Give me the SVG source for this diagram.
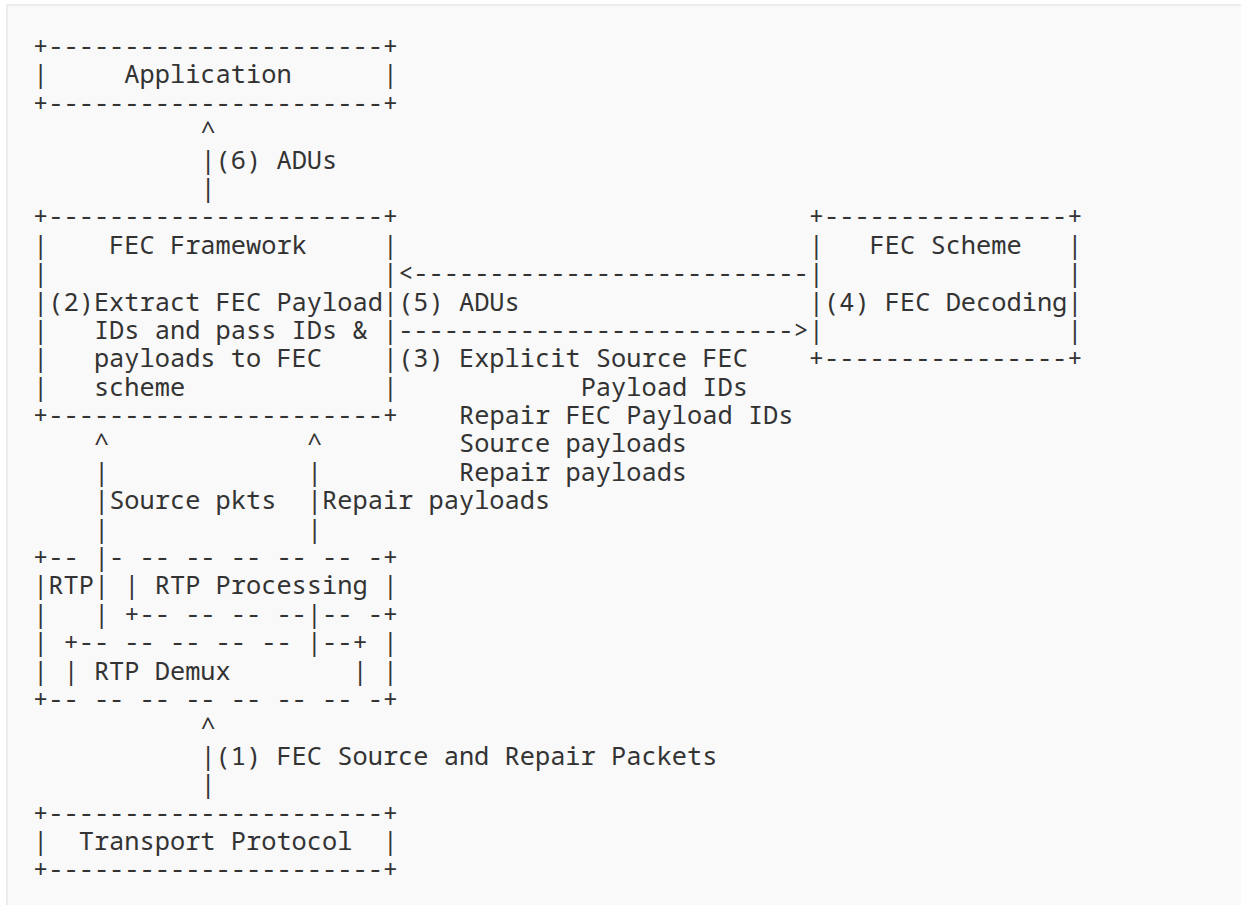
<svg xmlns="http://www.w3.org/2000/svg" width="1241" height="905" viewBox="0 0 1241 905" xml:space="preserve">
<style>
.t{font-family:"Noto Sans Mono","DejaVu Sans Mono","Liberation Mono",monospace;font-size:25.35px;fill:#333;white-space:pre}
</style>
<rect x="0" y="0" width="1241" height="905" fill="#ffffff"/>
<rect x="7" y="5" width="1250" height="920" fill="#f9f9f9" stroke="#ececec" stroke-width="2"/>
<g id="application">
<text class="t" x="33.1" y="55">+----------------------+</text>
<text class="t" x="33.1" y="83.39">|     Application      |</text>
<text class="t" x="33.1" y="111.78">+----------------------+</text>
</g>
<g id="fec-framework">
<text class="t" x="33.1" y="225.34">+----------------------+</text>
<text class="t" x="33.1" y="253.73">|    FEC Framework     |</text>
<text class="t" x="33.1" y="282.12">|                      |</text>
<text class="t" x="33.1" y="310.51">|(2)Extract FEC Payload|</text>
<text class="t" x="33.1" y="338.9">|   IDs and pass IDs &amp; |</text>
<text class="t" x="33.1" y="367.29">|   payloads to FEC    |</text>
<text class="t" x="33.1" y="395.68">|   scheme             |</text>
<text class="t" x="33.1" y="424.07">+----------------------+</text>
</g>
<g id="fec-scheme">
<text class="t" x="808.81" y="225.34">+----------------+</text>
<text class="t" x="808.81" y="253.73">|   FEC Scheme   |</text>
<text class="t" x="808.81" y="282.12">|                |</text>
<text class="t" x="808.81" y="310.51">|(4) FEC Decoding|</text>
<text class="t" x="808.81" y="338.9">|                |</text>
<text class="t" x="808.81" y="367.29">+----------------+</text>
</g>
<g id="rtp">
<text class="t" x="33.1" y="566.02">+-- |- -- -- -- -- -- -+</text>
<text class="t" x="33.1" y="594.41">|RTP| | RTP Processing |</text>
<text class="t" x="33.1" y="622.8">|   | +-- -- -- --|-- -+</text>
<text class="t" x="33.1" y="651.19">| +-- -- -- -- -- |--+ |</text>
<text class="t" x="33.1" y="679.58">| | RTP Demux        | |</text>
<text class="t" x="33.1" y="707.97">+-- -- -- -- -- -- -- -+</text>
</g>
<g id="transport">
<text class="t" x="33.1" y="821.53">+----------------------+</text>
<text class="t" x="33.1" y="849.92">|  Transport Protocol  |</text>
<text class="t" x="33.1" y="878.31">+----------------------+</text>
</g>
<g id="connectors">
<text class="t" x="200.41" y="140.17">^</text>
<text class="t" x="200.41" y="168.56">|</text>
<text class="t" x="200.41" y="196.95">|</text>
<text class="t" x="398.14" y="282.12">&lt;--------------------------</text>
<text class="t" x="398.14" y="338.9">--------------------------&gt;</text>
<text class="t" x="93.94" y="452.46">^</text>
<text class="t" x="306.88" y="452.46">^</text>
<text class="t" x="93.94" y="480.85">|</text>
<text class="t" x="306.88" y="480.85">|</text>
<text class="t" x="93.94" y="509.24">|</text>
<text class="t" x="306.88" y="509.24">|</text>
<text class="t" x="93.94" y="537.63">|</text>
<text class="t" x="306.88" y="537.63">|</text>
<text class="t" x="200.41" y="736.36">^</text>
<text class="t" x="200.41" y="764.75">|</text>
<text class="t" x="200.41" y="793.14">|</text>
</g>
<g id="labels">
<text class="t" x="215.62" y="168.56">(6) ADUs</text>
<text class="t" x="398.14" y="310.51">(5) ADUs</text>
<text class="t" x="398.14" y="367.29">(3) Explicit Source FEC</text>
<text class="t" x="580.66" y="395.68">Payload IDs</text>
<text class="t" x="458.98" y="424.07">Repair FEC Payload IDs</text>
<text class="t" x="458.98" y="452.46">Source payloads</text>
<text class="t" x="458.98" y="480.85">Repair payloads</text>
<text class="t" x="109.15" y="509.24">Source pkts</text>
<text class="t" x="322.09" y="509.24">Repair payloads</text>
<text class="t" x="215.62" y="764.75">(1) FEC Source and Repair Packets</text>
</g>
</svg>
